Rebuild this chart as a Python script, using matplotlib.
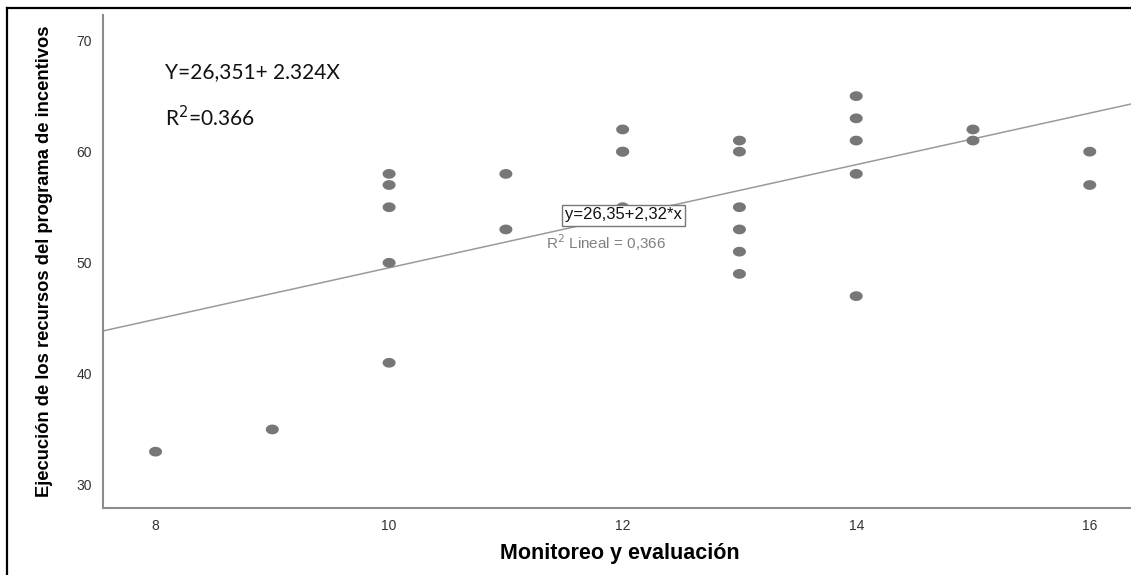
import matplotlib
matplotlib.use("Agg")
import matplotlib.pyplot as plt
import numpy as np
from matplotlib.path import Path
from matplotlib.lines import Line2D

# Data
monitoreo = [8, 9, 10, 10, 10, 10, 10, 11, 11, 12, 12, 12, 12,
             13, 13, 13, 13, 13, 13, 14, 14, 14, 14, 14, 15, 15, 16, 16]
ejecucion = [33, 35, 58, 57, 55, 50, 41, 58, 53, 62, 60, 60, 55,
             61, 60, 55, 53, 51, 49, 65, 63, 61, 58, 47, 62, 61, 60, 57]
intercept = 26.35
slope = 2.32
xticks = [8, 10, 12, 14, 16]
yticks = [30, 40, 50, 60, 70]

W, H = 1131, 575
fig = plt.figure(figsize=(W / 100, H / 100), dpi=100)
ax_w = 1.0 - 103 / W + 0.01
ax = fig.add_axes([103 / W, 1 - 508 / H, ax_w, (508 - 15) / H])
ax_wpx = ax_w * W
ax_hpx = 508 - 15

xmin, xmax = 7.55, 16.45
ax.set_xlim(xmin, xmax)
ax.set_ylim(27.93, 72.3)

# ellipse marker
t = np.linspace(0, 2 * np.pi, 40)
ell = Path(np.column_stack([np.cos(t), 0.75 * np.sin(t)]), closed=True)

ax.scatter(monitoreo, ejecucion, marker=ell, s=88, color="#777777",
           edgecolors="none", zorder=3)

xs = np.array([xmin, xmax])
ax.plot(xs, intercept + slope * xs, color="#9a9a9a", lw=1.1, zorder=2)

for s in ["top", "right"]:
    ax.spines[s].set_visible(False)
for s in ["left", "bottom"]:
    ax.spines[s].set_color("#8c8c8c")
    ax.spines[s].set_linewidth(1.5)

ax.set_xticks(xticks)
ax.set_yticks(yticks)
ax.tick_params(length=0, labelsize=10, labelcolor="#333333")
for lab in ax.get_xticklabels() + ax.get_yticklabels():
    lab.set_family("Liberation Sans")
ax.tick_params(axis="y", pad=8)
ax.tick_params(axis="x", pad=8)

ax.set_xlabel("Monitoreo y evaluación", fontsize=15.5, fontweight="bold",
              family="Liberation Sans")
ax.xaxis.set_label_coords((620 - 103) / ax_wpx, -(543 - 508) / ax_hpx)
ax.set_ylabel("Ejecución de los recursos del programa de incentivos",
              fontsize=13.2, fontweight="bold",
              family=["Liberation Sans Narrow", "Liberation Sans"])
ax.yaxis.set_label_coords((53 - 103) / ax_wpx, (508 - 261) / ax_hpx)

ax.text(12.01, 54.3, "y=26,35+2,32*x", fontsize=12, family="Liberation Sans",
        ha="center", va="center", color="#111111", zorder=5,
        bbox=dict(boxstyle="square,pad=0.18", fc="white", ec="#777777", lw=1))
ax.text(11.86, 51.85, "R$^2$ Lineal = 0,366", fontsize=11,
        family="Liberation Sans", ha="center", va="center", color="#808080")

fig.text(165 / W, 1 - 72 / H, "Y=26,351+ 2.324X", fontsize=15,
         family="Lato", ha="left", va="center", color="#111111")
fig.text(165 / W, 1 - 118 / H, "R$^2$=0.366", fontsize=15,
         family="Lato", ha="left", va="center", color="#111111")

# outer frame
fig.add_artist(Line2D([7 / W, 7 / W], [0, 1 - 8 / H], color="black", lw=1.6,
                      transform=fig.transFigure))
fig.add_artist(Line2D([7 / W, 1], [1 - 8 / H, 1 - 8 / H], color="black", lw=1.6,
                      transform=fig.transFigure))

fig.savefig("out.png", dpi=100)
